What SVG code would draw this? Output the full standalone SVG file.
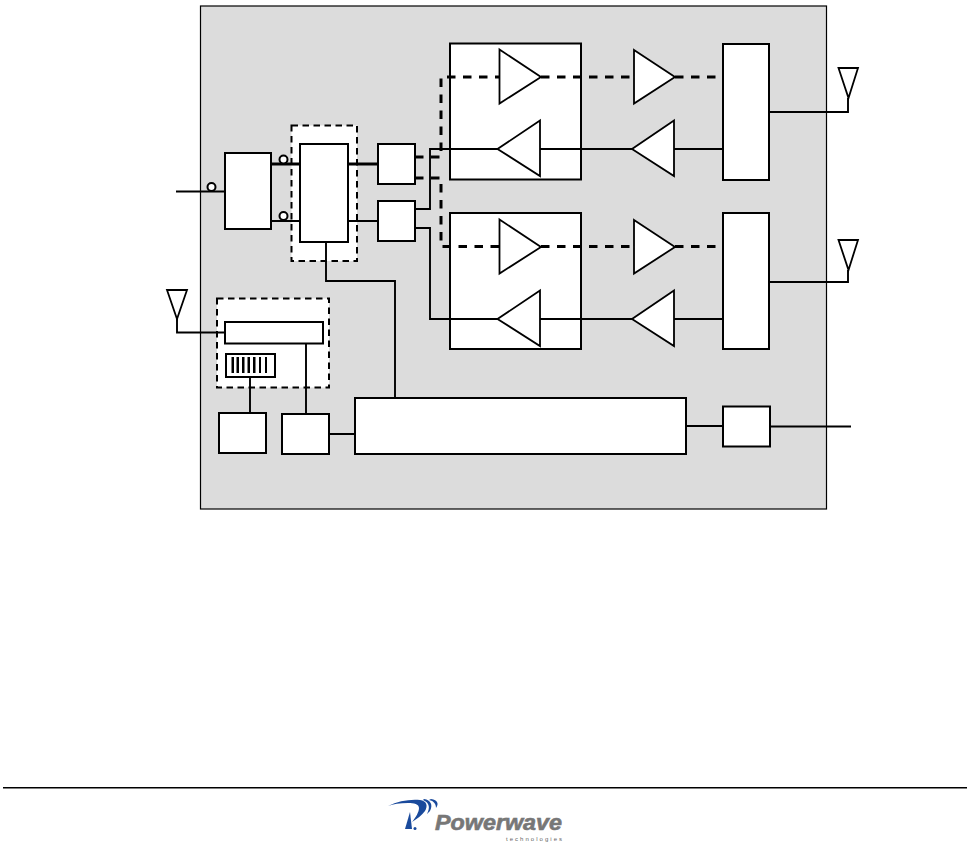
<svg xmlns="http://www.w3.org/2000/svg" width="967" height="847" viewBox="0 0 967 847">
<style>
.box{fill:#fff;stroke:#000;stroke-width:2}
.tri{fill:#fff;stroke:#000;stroke-width:1.8;stroke-linejoin:miter}
.dbox{fill:#fff;stroke:#000;stroke-width:2;stroke-dasharray:6.500 4.500}
.w{fill:none;stroke:#000;stroke-width:1.9}
.t{fill:none;stroke:#000;stroke-width:3}
.d{fill:none;stroke:#000;stroke-width:3;stroke-dasharray:8.500 7.500}
.port{fill:#fff;stroke:#000;stroke-width:2}
.ant{fill:none;stroke:#000;stroke-width:1.800}
.bar{fill:#000}
.logo{fill:#1a4a9c}
</style>
<rect x="0" y="0" width="967" height="847" fill="#fff"/>
<rect id="panel" x="200.500" y="6" width="626" height="503" fill="#dcdcdc" stroke="#000" stroke-width="1.200"/>
<g id="guard-group"><rect class="dbox" x="291.500" y="125.500" width="65.500" height="135.500"/></g>
<g id="gps-group"><rect class="dbox" x="217" y="298.500" width="112" height="89"/></g>
<g id="amp-a-box"><rect class="box" x="450" y="43.500" width="131" height="136"/></g>
<g id="amp-b-box"><rect class="box" x="450" y="213" width="131" height="136"/></g>
<g id="connectors">
<path class="w" d="M176 191.500H225"/>
<path class="t" d="M271 164H300M348 164H378"/>
<path class="w" d="M271 221H300M348 221H378"/>
<path class="d" d="M415 157H441V77H499"/>
<path class="d" d="M541 77H634"/>
<path class="d" d="M675 77H723"/>
<path class="d" d="M415 178H441V246.500H499"/>
<path class="d" d="M541 246.500H634"/>
<path class="d" d="M675 246.500H723"/>
<path class="w" d="M498 149H430V209H414"/>
<path class="w" d="M415 228H430V319H498"/>
<path class="w" d="M540 149H632M674 149H723M540 319H632M674 319H723"/>
<path class="w" d="M769 112H848V98M769 282H848V270"/>
<path class="w" d="M177 318V332.500H225"/>
<path class="w" d="M326 242V281H395V398"/>
<path class="w" d="M250 377V413M306 343V415M329 434H355M686 426H723M770 426.500H851"/>
</g>
<g id="in-ports">
<circle class="port" cx="211.500" cy="187" r="4"/>
</g>
<g id="splitter"><rect class="box" x="225" y="153" width="46" height="76"/></g>
<g id="ports"><circle class="port" cx="283.500" cy="159.500" r="4"/><circle class="port" cx="283.500" cy="216" r="4"/></g>
<g id="switch"><rect class="box" x="300" y="144" width="48" height="98"/></g>
<g id="filter-a"><rect class="box" x="378" y="144" width="37" height="40"/></g>
<g id="filter-b"><rect class="box" x="378" y="201" width="37" height="40"/></g>
<g id="amp-a">
<polygon class="tri" points="499.500,49.500 541,77 499.500,103.500"/>
<polygon class="tri" points="540,120.500 497.500,149 540,176"/>
</g>
<g id="amp-b">
<polygon class="tri" points="499.500,219.500 541,247 499.500,273.500"/>
<polygon class="tri" points="540,290.500 497.500,319 540,346"/>
</g>
<g id="pa-a"><polygon class="tri" points="634,50 675,77 634,103.500"/><polygon class="tri" points="674,120.500 632,149 674,176"/></g>
<g id="pa-b"><polygon class="tri" points="634,220 675,247 634,273.500"/><polygon class="tri" points="674,290.500 632,319 674,346"/></g>
<g id="duplexer-a"><rect class="box" x="723" y="44" width="46" height="136"/></g>
<g id="duplexer-b"><rect class="box" x="723" y="213" width="46" height="136"/></g>
<g id="ant-a"><polygon class="ant" points="838.500,68 858,68 848.500,98"/></g>
<g id="ant-b"><polygon class="ant" points="838.500,240 858,240 848.500,270"/></g>
<g id="ant-gps"><polygon class="ant" points="167,290 187,290 177,319"/></g>
<g id="gps-rx"><rect class="box" x="225" y="322" width="98" height="21.500"/></g>
<g id="gps-clock">
<rect class="box" x="226" y="354" width="49" height="23"/>
<rect class="bar" x="231.500" y="357" width="2.500" height="16"/><rect class="bar" x="236.500" y="357" width="2.500" height="16"/><rect class="bar" x="242" y="357" width="2.500" height="16"/><rect class="bar" x="247.500" y="357" width="2.500" height="16"/><rect class="bar" x="253" y="357" width="2.500" height="16"/><rect class="bar" x="259" y="357" width="2" height="16"/><rect class="bar" x="265" y="357" width="2" height="16"/>
</g>
<g id="box-a"><rect class="box" x="219" y="413" width="47" height="40"/></g>
<g id="box-b"><rect class="box" x="282" y="414" width="47" height="40"/></g>
<g id="controller"><rect class="box" x="355" y="398" width="331" height="56"/></g>
<g id="interface"><rect class="box" x="723" y="406.500" width="47" height="40"/></g>
<rect id="rule" x="3" y="787" width="964" height="1.500" fill="#000"/>
<g id="logo">
<path class="logo" d="M388 806C398 801 410 799 420 800C427 801 428 806 425 811C422 815 417 819 412 822C416 817 419 812 419 808C419 804 414 803 408 803C400 803 393 804 388 806Z"/>
<path class="logo" d="M405 829L410 812L412 829Z"/>
<path class="logo" d="M424 799C431 800 433 805 430 811L427 814C430 808 430 803 423 800Z"/>
<path class="logo" d="M431 799C438 800 439 804 436 808C436 804 434 801 429 800Z"/>
<circle class="logo" cx="415" cy="828.500" r="1.500"/>
<text x="435" y="830" font-family="'Liberation Sans',Arial,sans-serif" font-size="22" font-weight="700" font-style="italic" fill="#777" stroke="#777" stroke-width="0.600" textLength="127" lengthAdjust="spacingAndGlyphs">Powerwave</text>
<text x="506" y="841" font-family="'Liberation Sans',Arial,sans-serif" font-size="6" fill="#666" textLength="56">technologies</text>
</g>
</svg>
